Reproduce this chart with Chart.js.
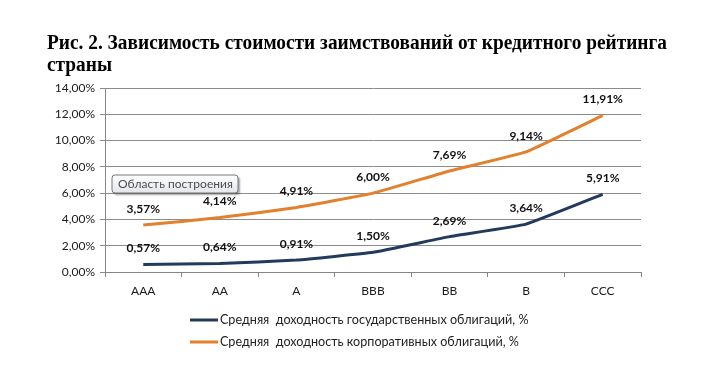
<!DOCTYPE html>
<html>
<head>
<meta charset="utf-8">
<script src="https://cdn.jsdelivr.net/npm/chart.js@4.4.1/dist/chart.umd.min.js"></script>
<style>
  html, body { margin: 0; padding: 0; background: #fff; }
  #wrap { position: relative; width: 711px; height: 384px; }
  #title {
    position: absolute; left: 47px; top: 31px;
    font-family: "Liberation Serif", serif; font-weight: bold; font-size: 20px;
    line-height: 22px; color: #000; white-space: nowrap;
    transform-origin: 0 0;
  }
  canvas { position: absolute; left: 0; top: 0; }
</style>
</head>
<body>
<div id="wrap">
  <canvas id="chart" width="711" height="384"></canvas>
  <div id="title"><span id="t1">Рис. 2. Зависимость стоимости заимствований от кредитного рейтинга</span><br>страны</div>
</div>
<script>
const ratings = ['AAA', 'AA', 'A', 'BBB', 'BB', 'B', 'CCC'];
const govYield = [0.57, 0.64, 0.91, 1.50, 2.69, 3.64, 5.91];
const corpYield = [3.57, 4.14, 4.91, 6.00, 7.69, 9.14, 11.91];
const seriesNames = [
    'Средняя  доходность государственных облигаций, %',
    'Средняя  доходность корпоративных облигаций, %'
];

// squeeze the title line to the width it has in the figure
const t1 = document.getElementById('t1');
document.getElementById('title').style.transform = 'scaleX(' + (620 / t1.getBoundingClientRect().width) + ')';

const fmt = v => v.toFixed(2).replace('.', ',') + '%';
const labelFont = '"Lato", "Open Sans", sans-serif';

// data labels above each point
const pointLabels = {
    id: 'pointLabels',
    afterDatasetsDraw(chart) {
        const ctx = chart.ctx;
        ctx.save();
        ctx.font = 'bold 12px ' + labelFont;
        ctx.fillStyle = '#111';
        ctx.textAlign = 'center';
        ctx.textBaseline = 'middle';
        chart.data.datasets.forEach((ds, i) => {
            chart.getDatasetMeta(i).data.forEach((pt, j) => {
                ctx.fillText(fmt(ds.data[j]), pt.x, pt.y - 16);
            });
        });
        ctx.restore();
    }
};

// legend stacked in two rows under the axis
const stackedLegend = {
    id: 'stackedLegend',
    afterDraw(chart) {
        const ctx = chart.ctx;
        ctx.save();
        ctx.font = '12.6px ' + labelFont;
        ctx.textBaseline = 'middle';
        chart.data.datasets.forEach((ds, i) => {
            const y = 320 + i * 22;
            ctx.strokeStyle = ds.borderColor;
            ctx.lineWidth = 3;
            ctx.beginPath();
            ctx.moveTo(190, y);
            ctx.lineTo(218, y);
            ctx.stroke();
            ctx.fillStyle = '#222';
            ctx.fillText(ds.label, 220, y);
        });
        ctx.restore();
    }
};

// the "Область построения" hover hint seen in the picture
const areaHint = {
    id: 'areaHint',
    afterDraw(chart) {
        const ctx = chart.ctx;
        const x = 112, y = 175, w = 126, h = 18;
        ctx.save();
        ctx.shadowColor = 'rgba(0,0,0,0.35)';
        ctx.shadowOffsetX = 2;
        ctx.shadowOffsetY = 2;
        ctx.shadowBlur = 2;
        const g = ctx.createLinearGradient(0, y, 0, y + h);
        g.addColorStop(0, '#ffffff');
        g.addColorStop(1, '#e4e5ee');
        ctx.fillStyle = g;
        ctx.beginPath();
        ctx.roundRect(x, y, w, h, 3);
        ctx.fill();
        ctx.shadowColor = 'transparent';
        ctx.strokeStyle = '#767676';
        ctx.lineWidth = 1;
        ctx.stroke();
        ctx.fillStyle = '#4c4c4c';
        ctx.font = '12px ' + labelFont;
        ctx.textBaseline = 'middle';
        ctx.fillText('Область построения', x + 6, y + h / 2 + 0.5);
        ctx.restore();
    }
};

new Chart(document.getElementById('chart').getContext('2d'), {
    type: 'line',
    data: {
        labels: ratings,
        datasets: [{
            label: seriesNames[0],
            data: govYield,
            borderColor: '#233a5c',
            borderWidth: 3,
            pointRadius: 0,
            tension: 0.1,
            fill: false
        }, {
            label: seriesNames[1],
            data: corpYield,
            borderColor: '#e2802c',
            borderWidth: 3,
            pointRadius: 0,
            tension: 0.1,
            fill: false
        }]
    },
    options: {
        responsive: false,
        animation: false,
        events: [],
        layout: {
            padding: { top: 88, left: 0, right: 70, bottom: 82 }
        },
        plugins: {
            legend: { display: false },
            tooltip: { enabled: false },
            title: { display: false }
        },
        scales: {
            x: {
                offset: true,
                afterFit(scale) { scale.height = 30; },
                grid: {
                    offset: true,
                    drawOnChartArea: false,
                    drawTicks: true,
                    tickLength: 5,
                    color: '#868686'
                },
                border: { color: '#868686', width: 1 },
                ticks: {
                    padding: 7,
                    color: '#1a1a1a',
                    font: { family: labelFont, size: 12 }
                }
            },
            y: {
                min: 0,
                max: 14,
                afterFit(scale) { scale.width = 105; },
                grid: {
                    color: '#8c8c8c',
                    tickLength: 5
                },
                border: { color: '#868686', width: 1 },
                ticks: {
                    stepSize: 2,
                    padding: 5,
                    color: '#1a1a1a',
                    font: { family: labelFont, size: 12 },
                    callback: v => fmt(v)
                }
            }
        }
    },
    plugins: [pointLabels, stackedLegend, areaHint]
});
</script>
</body>
</html>
